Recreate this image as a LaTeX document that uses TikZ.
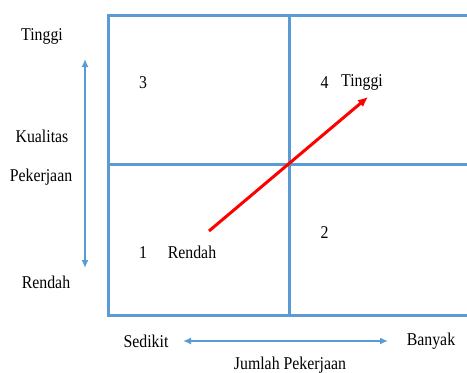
\documentclass[tikz,border=0pt]{standalone}
\usepackage{fontspec}
\setmainfont[FakeStretch=0.88]{Liberation Serif}
\usetikzlibrary{arrows.meta}
\definecolor{gridblue}{HTML}{5B9BD5}
\begin{document}
\begin{tikzpicture}[x=1pt,y=-1pt,
  lbl/.style={font=\fontsize{18}{20}\selectfont, inner sep=0pt, text=black},
  gridline/.style={draw=gridblue, line width=3pt},
  bluearrow/.style={draw=gridblue, line width=1.5pt, {Latex[length=8pt,width=7pt]}-{Latex[length=8pt,width=7pt]}},
  redarrow/.style={draw=red, line width=3pt, -{Latex[length=10pt,width=9pt]}}]
\useasboundingbox (0,0) rectangle (467,373);
% grid
\coordinate (tl) at (108,15);
\coordinate (tr) at (468,15);
\coordinate (ml) at (108,164);
\coordinate (mr) at (468,164);
\coordinate (bl) at (108,315);
\coordinate (br) at (468,315);
\coordinate (mt) at (289,15);
\coordinate (mb) at (289,315);
\draw[gridline] (tr) -- (tl) -- (bl) -- (br);
\draw[gridline] (ml) -- (mr);
\draw[gridline] (mt) -- (mb);
% left labels
\node[lbl] (tinggiL) at (42,36) {Tinggi};
\node[lbl] (kual) at (42,136) {Kualitas};
\node[lbl] (pek) at (41,177) {Pekerjaan};
\node[lbl] (rendahL) at (46,282) {Rendah};
\coordinate (vtop) at (85,59);
\coordinate (vbot) at (85,268);
\draw[bluearrow] (vtop) -- (vbot);
% quadrant labels
\node[lbl] (q3) at (143,83) {3};
\node[lbl] (q4) at (324.5,83) {4};
\node[lbl] (tinggiQ) at (362,82) {Tinggi};
\node[lbl] (q1) at (143,253) {1};
\node[lbl] (rendahQ) at (192,252) {Rendah};
\node[lbl] (q2) at (324.5,233) {2};
% red arrow
\coordinate (rstart) at (209,231);
\coordinate (rend) at (368,97);
\draw[redarrow] (rstart) -- (rend);
% bottom
\node[lbl] (sedikit) at (146,341) {Sedikit};
\node[lbl] (banyak) at (431,341) {Banyak};
\node[lbl] (jumlah) at (290,365) {Jumlah Pekerjaan};
\coordinate (hl) at (183,341);
\coordinate (hr) at (388,341);
\draw[bluearrow] (hl) -- (hr);
\end{tikzpicture}
\end{document}
